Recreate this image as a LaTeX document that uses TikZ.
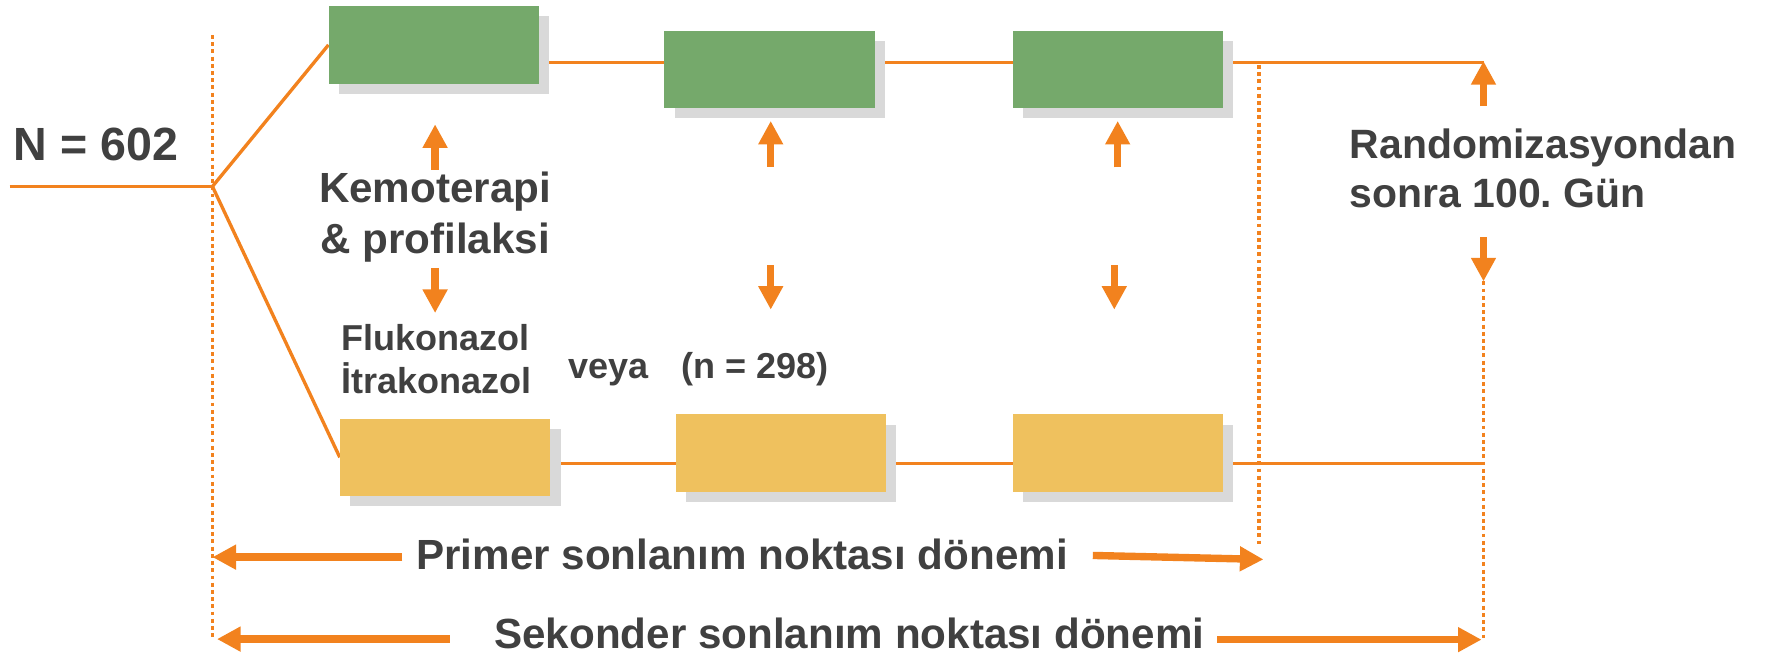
\documentclass[tikz,border=0pt]{standalone}
\usepackage{fontspec}
\setmainfont{Liberation Sans}
\usetikzlibrary{arrows.meta,shadows,backgrounds}
\definecolor{org}{RGB}{242,130,30}
\definecolor{grn}{RGB}{117,169,107}
\definecolor{ylw}{RGB}{239,193,94}
\definecolor{shd}{RGB}{217,217,217}
\definecolor{txt}{RGB}{64,64,64}
\tikzset{
  box/.style={minimum width=4.204cm,minimum height=1.548cm,inner sep=0pt,
    drop shadow={fill=shd,opacity=1,shadow xshift=0.203cm,shadow yshift=-0.203cm}},
  gbox/.style={box,fill=grn},
  ybox/.style={box,fill=ylw},
  conn/.style={draw=org,line width=1.9pt},
  dots/.style={draw=org,line width=2.1pt,dash pattern=on 2.2pt off 1.9pt},
  barrow/.style={draw=org,line width=4.2pt,-{Triangle[width=13.4pt,length=13.4pt]}},
  lbl/.style={text=txt,font=\bfseries\fontsize{24}{28}\selectfont,inner sep=0pt,anchor=base west},
  sml/.style={text=txt,font=\bfseries\fontsize{20.5}{24}\selectfont,inner sep=0pt,anchor=base west},
}
\begin{document}
\frenchspacing
\begin{tikzpicture}[x=0.022602cm,y=-0.022602cm]
\useasboundingbox (0,0) rectangle (1568,580.4);
% boxes
\node[gbox] (g1) at (384,39.7) {};
\node[gbox] (g2) at (681,61.4) {};
\node[gbox] (g3) at (989,61.4) {};
\node[ybox] (y1) at (394,404.7) {};
\node[ybox] (y2) at (691,401) {};
\node[ybox] (y3) at (989,401) {};
% coordinates
\coordinate (start) at (8.5,165);
\coordinate (J) at (188,165);
\coordinate (topR) at (1312.7,55.5);
\coordinate (botR) at (1312.7,410);
\coordinate (dla) at (188,31);
\coordinate (dlb) at (188,566);
\coordinate (dma) at (1114,57.5);
\coordinate (dmb) at (1114,481);
\coordinate (dra) at (1312.7,249);
\coordinate (drb) at (1312.7,566);
\begin{scope}[on background layer]
\draw[conn] (start) -- (J);
\draw[conn] (J) -- (g1.west);
\draw[conn] (J) -- (y1.west);
\draw[conn] (g1.center |- topR) -- (topR);
\draw[conn] (y1.center |- botR) -- (botR);
\end{scope}
\draw[dots] (dla) -- (dlb);
\draw[dots] (dma) -- (dmb);
\draw[dots] (dra) -- (drb);
% block arrows
\coordinate (a1s) at (385,150); \coordinate (a1e) at (385,110);
\coordinate (a2s) at (385,237); \coordinate (a2e) at (385,277);
\coordinate (a3s) at (682,147.6); \coordinate (a3e) at (682,107);
\coordinate (a4s) at (682,234.5); \coordinate (a4e) at (682,274);
\coordinate (a5s) at (989,148); \coordinate (a5e) at (989,107);
\coordinate (a6s) at (986,234.5); \coordinate (a6e) at (986,274);
\coordinate (a7s) at (1312.7,94); \coordinate (a7e) at (1312.7,54);
\coordinate (a8s) at (1312.7,210); \coordinate (a8e) at (1312.7,249);
\coordinate (p1s) at (356,493); \coordinate (p1e) at (188,493);
\coordinate (p2s) at (967,491.5); \coordinate (p2e) at (1118,495);
\coordinate (s1s) at (398,565.5); \coordinate (s1e) at (192,565.5);
\coordinate (s2s) at (1077,566); \coordinate (s2e) at (1311,566);
\foreach \a in {a1,a2,a3,a4,a5,a6,a7,a8,p1,p2,s1,s2}
  \draw[barrow] (\a s) -- (\a e);
% texts
\node[lbl,font=\bfseries\fontsize{26.5}{30}\selectfont] (n602) at (11.9,141.6) {N = 602};
\node[lbl,anchor=base] (kemo) at (385,179.4) {Kemoterapi};
\node[lbl,anchor=base] (prof) at (385,224) {\& profilaksi};
\node[lbl,font=\bfseries\fontsize{23.3}{28}\selectfont] (rand) at (1194,140) {Randomizasyondan};
\node[lbl,font=\bfseries\fontsize{23.3}{28}\selectfont] (sonra) at (1194,184) {sonra 100. Gün};
\node[sml] (fluk) at (302,310) {Flukonazol};
\node[sml] (itra) at (302,348) {İtrakonazol};
\node[sml] (veya) at (503,334.6) {veya};
\node[sml] (nn) at (603,334.6) {(n = 298)};
\node[lbl] (prim) at (368,504) {Primer sonlanım noktası dönemi};
\node[lbl] (sek) at (437,573.5) {Sekonder sonlanım noktası dönemi};
\end{tikzpicture}
\end{document}
